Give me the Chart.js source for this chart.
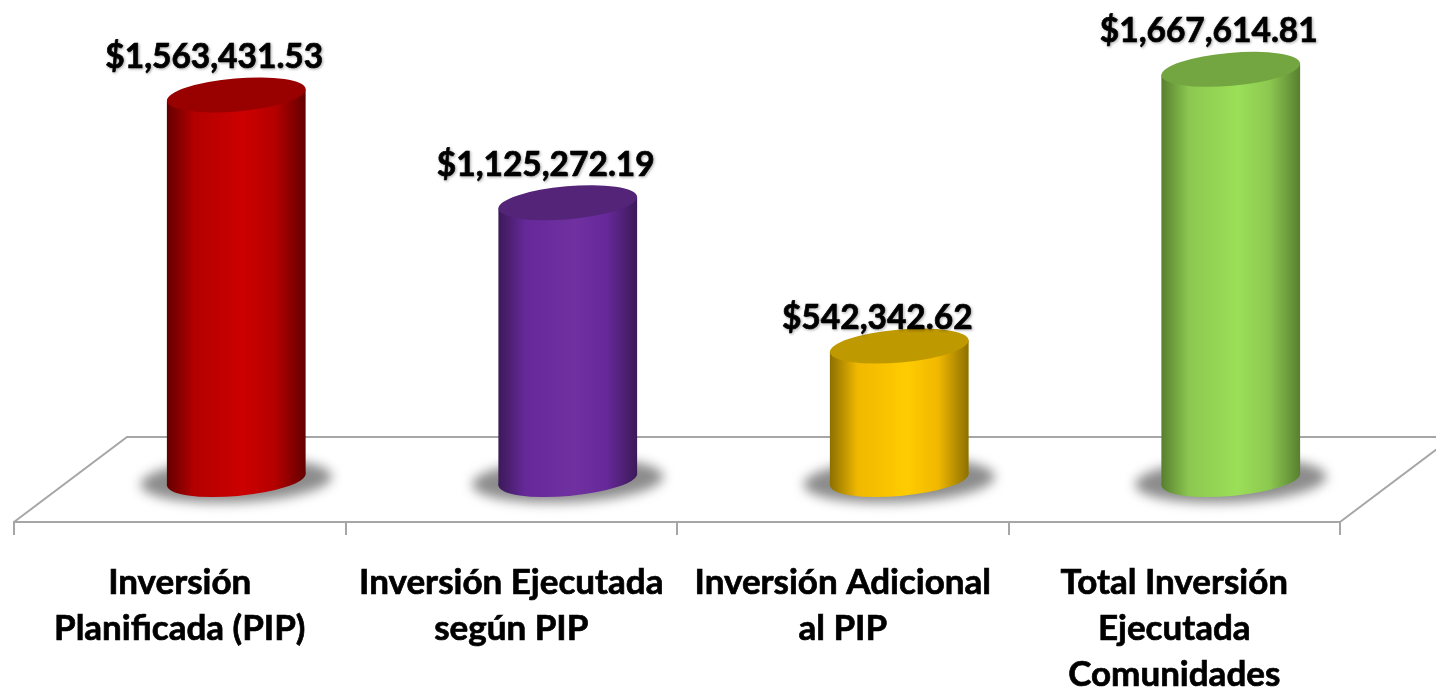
<!DOCTYPE html>
<html>
<head>
<meta charset="utf-8">
<title>Inversión</title>
<script src="https://cdn.jsdelivr.net/npm/chart.js@4"></script>
<style>
  body { margin: 0; background: #fff; }
  canvas { display: block; }
</style>
</head>
<body>
<canvas id="inversion" width="1436" height="687"></canvas>
<script>
const categories = [
  ["Inversión", "Planificada (PIP)"],
  ["Inversión Ejecutada", "según PIP"],
  ["Inversión Adicional", "al PIP"],
  ["Total Inversión", "Ejecutada", "Comunidades"]
];
const values = [1563431.53, 1125272.19, 542342.62, 1667614.81];
const valueLabels = ["$1,563,431.53", "$1,125,272.19", "$542,342.62", "$1,667,614.81"];

// edge, mid, centre and lid colours of each cylinder
const edgeColors = ["#640000", "#3c1a58", "#8c7000", "#587f30"];
const midColors = ["#b40000", "#66299a", "#f0b800", "#8cc850"];
const centerColors = ["#cc0000", "#7030a0", "#ffcc00", "#9bdf58"];
const lidColors = ["#990000", "#532478", "#bf9900", "#73a640"];

// the floor of the fake 3D box
const depthX = 113;
const depthY = 85;
const tilt = -5 * Math.PI / 180;
const lidRadius = 16.5;

const cylinders = {
  id: "cylinders",
  beforeDatasetsDraw(chart) {
    const { ctx, chartArea } = chart;
    const left = chartArea.left;
    const right = chartArea.right;
    const bottom = chartArea.bottom;
    ctx.save();
    ctx.strokeStyle = "#a6a6a6";
    ctx.lineWidth = 2;
    ctx.beginPath();
    ctx.moveTo(left, bottom);
    ctx.lineTo(left + depthX, bottom - depthY);
    ctx.lineTo(right + depthX, bottom - depthY);
    ctx.lineTo(right, bottom);
    ctx.stroke();
    ctx.restore();
  },
  afterDatasetsDraw(chart) {
    const { ctx } = chart;
    chart.getDatasetMeta(0).data.forEach((bar, i) => {
      const cx = bar.x + depthX / 2;
      const topY = bar.y - depthY / 2;
      const baseY = bar.base - depthY / 2;
      const rx = bar.width / 2;
      const ex = Math.sqrt(rx * rx * Math.cos(tilt) ** 2 + lidRadius ** 2 * Math.sin(tilt) ** 2);
      const ey = (rx * rx - lidRadius ** 2) * Math.sin(tilt) * Math.cos(tilt) / ex;

      // shadow on the floor
      ctx.save();
      ctx.filter = "blur(6px)";
      ctx.fillStyle = "#8c8c8c";
      ctx.beginPath();
      ctx.ellipse(cx, baseY + 1, rx + 26, 22, tilt / 2, 0, Math.PI * 2);
      ctx.fill();
      ctx.restore();

      const grad = ctx.createLinearGradient(cx - ex, 0, cx + ex, 0);
      grad.addColorStop(0, edgeColors[i]);
      grad.addColorStop(0.2, midColors[i]);
      grad.addColorStop(0.55, centerColors[i]);
      grad.addColorStop(0.78, midColors[i]);
      grad.addColorStop(1, edgeColors[i]);

      ctx.save();
      ctx.fillStyle = grad;
      ctx.beginPath();
      ctx.moveTo(cx - ex, topY - ey);
      ctx.lineTo(cx + ex, topY + ey);
      ctx.lineTo(cx + ex, baseY + ey);
      ctx.lineTo(cx - ex, baseY - ey);
      ctx.closePath();
      ctx.fill();
      ctx.beginPath();
      ctx.ellipse(cx, baseY, rx, lidRadius, tilt, 0, Math.PI * 2);
      ctx.fill();

      ctx.fillStyle = lidColors[i];
      ctx.beginPath();
      ctx.ellipse(cx, topY, rx, lidRadius, tilt, 0, Math.PI * 2);
      ctx.fill();

      // value label, the small one sits closer to its lid
      ctx.font = "bold 33.5px Lato";
      ctx.fillStyle = "#000";
      ctx.strokeStyle = "#000";
      ctx.lineWidth = 0.7;
      ctx.textAlign = "center";
      ctx.textBaseline = "middle";
      ctx.shadowColor = "rgba(0,0,0,0.3)";
      ctx.shadowBlur = 3;
      ctx.shadowOffsetX = 1;
      ctx.shadowOffsetY = 1;
      const lift = values[i] < 600000 ? 28 : 38;
      ctx.fillText(valueLabels[i], cx - 22, topY - lift);
      ctx.strokeText(valueLabels[i], cx - 22, topY - lift);
      ctx.restore();
    });
  }
};

new Chart(document.getElementById("inversion"), {
  type: "bar",
  data: {
    labels: categories,
    datasets: [
      {
        data: values,
        backgroundColor: "rgba(0,0,0,0)",
        categoryPercentage: 1,
        barPercentage: 0.42
      }
    ]
  },
  options: {
    responsive: false,
    animation: false,
    layout: {
      padding: {
        left: 14,
        right: 96,
        top: 3,
        bottom: 0
      }
    },
    plugins: {
      legend: { display: false },
      tooltip: { enabled: false }
    },
    scales: {
      y: {
        display: false,
        min: 0,
        max: 2110000
      },
      x: {
        afterFit(scale) {
          scale.height = 165;
        },
        border: { color: "#a6a6a6", width: 2 },
        grid: {
          drawOnChartArea: false,
          color: "#a6a6a6",
          lineWidth: 2,
          tickLength: 13
        },
        ticks: {
          color: "#000",
          padding: 25,
          maxRotation: 0,
          autoSkip: false,
          textStrokeColor: "#000",
          textStrokeWidth: 0.7,
          font: {
            family: "Lato",
            weight: "bold",
            size: 35,
            lineHeight: "46px"
          }
        }
      }
    }
  },
  plugins: [cylinders]
});
</script>
</body>
</html>
